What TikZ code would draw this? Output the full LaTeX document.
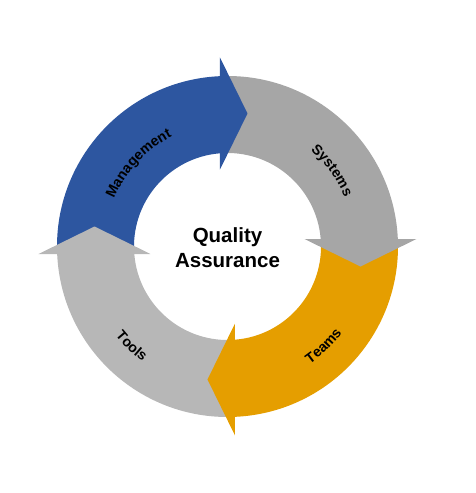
\documentclass[tikz,border=0pt]{standalone}
\usepackage{fontspec}
\setmainfont{Liberation Sans}
\usetikzlibrary{decorations.text}
\definecolor{mgblue}{HTML}{2D56A0}
\definecolor{sysgray}{HTML}{A6A6A6}
\definecolor{toolgray}{HTML}{B7B7B7}
\definecolor{teamorange}{HTML}{E59E00}
\newcommand{\lblfont}{\fontsize{14.2}{16}\selectfont\bfseries}
\tikzset{
  body/.style={fill=#1, draw=none},
  headshape/.style={fill=#1, draw=none},
  arclabel/.style={decorate, decoration={text along path, text align=center, text={#1}}}
}
\begin{document}
\begin{tikzpicture}[x=1pt,y=1pt]
\useasboundingbox (-227.5,-246.5) rectangle (247.5,246.5);
\def\Ro{170.5}
\def\Ri{93.5}
% ring bodies
\path[body=mgblue] (182:\Ro) arc[start angle=182,end angle=92,radius=\Ro] -- (92:\Ri) arc[start angle=92,end angle=182,radius=\Ri] -- cycle;
\path[body=sysgray] (92:\Ro) arc[start angle=92,end angle=2,radius=\Ro] -- (2:\Ri) arc[start angle=2,end angle=92,radius=\Ri] -- cycle;
\path[body=teamorange] (2:\Ro) arc[start angle=2,end angle=-88,radius=\Ro] -- (-88:\Ri) arc[start angle=-88,end angle=2,radius=\Ri] -- cycle;
\path[body=toolgray] (-88:\Ro) arc[start angle=-88,end angle=-178,radius=\Ro] -- (-178:\Ri) arc[start angle=-178,end angle=-88,radius=\Ri] -- cycle;
% arrow heads
\path[headshape=mgblue] (-7.5,77) -- (-7.5,189) -- (20,133) -- cycle;
\path[headshape=sysgray, rotate=-90] (-7.5,77) -- (-7.5,189) -- (20,133) -- cycle;
\path[headshape=teamorange, rotate=180] (-7.5,77) -- (-7.5,189) -- (20,133) -- cycle;
\path[headshape=toolgray, rotate=90] (-7.5,77) -- (-7.5,189) -- (20,133) -- cycle;
% labels along the ring
\path[arclabel={|\lblfont|Management}] (177:123) arc[start angle=177,end angle=97,radius=123];
\path[arclabel={|\lblfont|Systems}] (76:127) arc[start angle=76,end angle=-4,radius=127];
\path[arclabel={|\lblfont|Teams}] (-86:143.5) arc[start angle=-86,end angle=-6,radius=143.5];
\path[arclabel={|\lblfont|Tools}] (186:143) arc[start angle=186,end angle=266,radius=143];
% centre
\node[font=\fontsize{20.5}{25}\selectfont\bfseries, align=center] (qa) at (0,-1) {Quality\\Assurance};
\end{tikzpicture}
\end{document}
